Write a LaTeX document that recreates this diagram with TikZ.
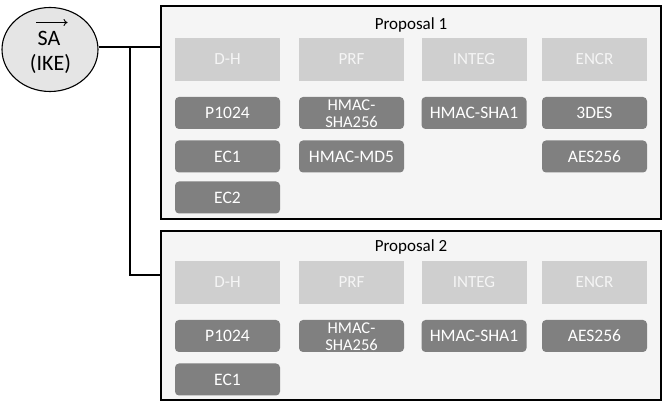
\documentclass[tikz,border=0pt]{standalone}
\usepackage{fontspec}
\setmainfont{Carlito}
\usetikzlibrary{shapes.geometric,arrows.meta}
\begin{document}
\begin{tikzpicture}[x=1pt,y=-1pt,
  prop/.style={draw=black,line width=1.3pt,fill=black!4,inner sep=0pt},
  hdr/.style={fill=black!19,text=black!4,minimum width=105pt,minimum height=43pt,inner sep=0pt,font=\fontsize{17}{19}\selectfont},
  itm/.style={fill=black!50,text=white,rounded corners=4pt,minimum width=105pt,minimum height=32pt,inner sep=0pt,font=\fontsize{17.5}{19}\selectfont},
  twoline/.style={text=white,inner sep=0pt,align=center,font=\fontsize{16.5}{17}\selectfont},
  ttl/.style={font=\fontsize{17}{19}\selectfont,inner sep=0pt},
  satxt/.style={font=\fontsize{22}{24}\selectfont,inner sep=0pt},
  conn/.style={line width=1.3pt}]
\useasboundingbox (0,0) rectangle (670,411);
% SA node
\node[ellipse,draw=black,line width=1.1pt,fill=black!10,minimum width=96pt,minimum height=84pt,inner sep=0pt] (sa) at (50,49.5) {};
\node[satxt] (sal) at (49,38) {SA};
\node[satxt] (ike) at (50.5,64) {(IKE)};
\draw[line width=0.9pt,-{To[length=4pt,width=7pt]}] ([xshift=-1pt]sal.north west |- 0,22.5) -- ([xshift=7pt]sal.north east |- 0,22.5);
% Proposal boxes
\node[prop,minimum width=500pt,minimum height=213pt] (p1) at (411,112.5) {};
\node[prop,minimum width=500pt,minimum height=169pt] (p2) at (411,315.5) {};
\node[ttl] (t1) at (411,25) {Proposal 1};
\node[ttl] (t2) at (411,247) {Proposal 2};
% Proposal 1 contents
\node[hdr] (a1) at (227.5,59.5) {D-H};
\node[hdr] (b1) at (351.5,59.5) {PRF};
\node[hdr] (c1) at (474,59.5) {INTEG};
\node[hdr] (d1) at (594.5,59.5) {ENCR};
\node[itm] (a1r1) at (227.5,113) {P1024};
\node[itm] (a1r2) at (227.5,156.5) {EC1};
\node[itm] (a1r3) at (227.5,197.5) {EC2};
\node[itm] (b1r1) at (351.5,113) {};
\node[twoline] (b1r1t) at (351.5,114) {HMAC-\\SHA256};
\node[itm] (b1r2) at (351.5,156.5) {HMAC-MD5};
\node[itm] (c1r1) at (474,113) {HMAC-SHA1};
\node[itm] (d1r1) at (594.5,113) {3DES};
\node[itm] (d1r2) at (594.5,156.5) {AES256};
% Proposal 2 contents
\node[hdr] (a2) at (227.5,282.5) {D-H};
\node[hdr] (b2) at (351.5,282.5) {PRF};
\node[hdr] (c2) at (474,282.5) {INTEG};
\node[hdr] (d2) at (594.5,282.5) {ENCR};
\node[itm] (a2r1) at (227.5,336) {P1024};
\node[itm] (a2r2) at (227.5,379.5) {EC1};
\node[itm] (b2r1) at (351.5,336) {};
\node[twoline] (b2r1t) at (351.5,337) {HMAC-\\SHA256};
\node[itm] (c2r1) at (474,336) {HMAC-SHA1};
\node[itm] (d2r1) at (594.5,336) {AES256};
% connectors
\coordinate (j1) at (130,47);
\coordinate (j2) at (130,275);
\draw[conn] (sa.east |- j1) -- (j1) -- (j1 -| p1.west);
\draw[conn] (j1) -- (j2) -- (j2 -| p2.west);
\end{tikzpicture}
\end{document}
